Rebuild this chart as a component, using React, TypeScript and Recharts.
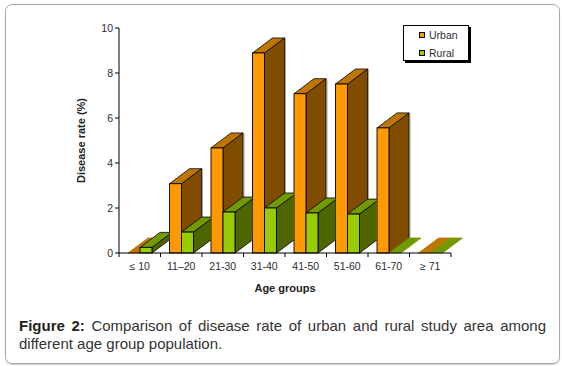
import React from 'react';
import { BarChart, Bar, XAxis, YAxis, Legend } from 'recharts';

const ageGroups = ['≤ 10', '11–20', '21-30', '31-40', '41-50', '51-60', '61-70', '≥ 71'];
const urbanRates = [0, 3.08, 4.67, 8.89, 7.08, 7.51, 5.56, 0];
const ruralRates = [0.25, 0.93, 1.82, 2.0, 1.78, 1.73, 0, 0];
const yTicks = [0, 2, 4, 6, 8, 10];

const chartData = ageGroups.map((group, i) => ({
  group,
  urban: urbanRates[i],
  rural: ruralRates[i],
}));

const FONT = '"Liberation Sans", Arial, sans-serif';
const TEXT = '#2b2b33';
const DEPTH_X = 20;
const DEPTH_Y = 15;
const BAND = 41.5;

const URBAN = { front: '#ff9900', top: '#bf7600', side: '#804d00' };
const RURAL = { front: '#99cc00', top: '#739900', side: '#4d6600' };

const Box3D = ({ x, y, width, height, colors, clipId, clipWidth }: any) => {
  const r = x + width;
  const b = y + height;
  const top = `${x},${y} ${x + DEPTH_X},${y - DEPTH_Y} ${r + DEPTH_X},${y - DEPTH_Y} ${r},${y}`;
  const side = `${r},${y} ${r + DEPTH_X},${y - DEPTH_Y} ${r + DEPTH_X},${b - DEPTH_Y} ${r},${b}`;
  return (
    <g>
      {clipId && (
        <clipPath id={clipId}>
          <rect x={x - 2} y={y - DEPTH_Y - 3} width={clipWidth + 2} height={height + DEPTH_Y + 6} />
        </clipPath>
      )}
      <g clipPath={clipId ? `url(#${clipId})` : undefined}>
        {height > 0 && (
          <line x1={r + DEPTH_X + 1} y1={y - DEPTH_Y} x2={r + DEPTH_X + 1} y2={b - DEPTH_Y} stroke="#aaaaaa" />
        )}
        {height > 0 && <polygon points={side} fill={colors.side} stroke="#000" strokeWidth={0.8} />}
        <polygon points={top} fill={colors.top} stroke={height > 0 ? '#000' : colors.top} strokeWidth={0.8} />
      </g>
      {height > 0 && <rect x={x} y={y} width={width} height={height} fill={colors.front} stroke="#000" strokeWidth={0.9} />}
    </g>
  );
};

const UrbanShape = (props: any) => <Box3D {...props} colors={URBAN} />;

// the next group's urban front sits over this rural box, so cut it off there
const RuralShape = (props: any) => {
  const covered = urbanRates[props.index + 1] > 0;
  return (
    <Box3D
      {...props}
      colors={RURAL}
      clipId={covered ? `rural-clip-${props.index}` : undefined}
      clipWidth={props.width + BAND - 24}
    />
  );
};

const AgeTick = ({ x, y, payload, index }: any) => (
  <g>
    <line x1={x - BAND / 2} y1={y - 8} x2={x - BAND / 2} y2={y - 4} stroke="#000" />
    {index === ageGroups.length - 1 && (
      <line x1={x + BAND / 2} y1={y - 8} x2={x + BAND / 2} y2={y - 4} stroke="#000" />
    )}
    <text x={x} y={y + 9} textAnchor="middle" fontFamily={FONT} fontSize={10.5} fill={TEXT}>
      {payload.value}
    </text>
  </g>
);

const LegendBox = ({ payload }: any) => (
  <div
    style={{
      width: 66,
      height: 36,
      boxSizing: 'border-box',
      background: '#fff',
      border: '1px solid #000',
      boxShadow: '2px 2px 0 #000',
      position: 'relative',
      fontFamily: FONT,
      fontSize: 10.5,
      color: TEXT,
    }}
  >
    {payload.map((entry: any, i: number) => (
      <div key={entry.value} style={{ position: 'absolute', left: 15, top: 3 + i * 17.5, display: 'flex', alignItems: 'center', lineHeight: '12px' }}>
        <span style={{ width: 4, height: 4, border: '1px solid #000', background: entry.color, marginRight: 4 }} />
        {entry.value}
      </div>
    ))}
  </div>
);

export default function App() {
  return (
    <div
      style={{
        position: 'absolute',
        left: 0,
        top: 0,
        width: 562,
        height: 366,
        background: '#fff',
        overflow: 'hidden',
      }}
    >
      <div
        style={{
          position: 'absolute',
          left: 5,
          top: 4,
          width: 553,
          height: 358,
          border: '1px solid #a8a8a8',
          borderRadius: 7,
          boxShadow: '0 1px 1px #ccc',
        }}
      />
      <div style={{ position: 'absolute', left: 0, top: 0 }}>
        <BarChart
          width={562}
          height={366}
          data={chartData}
          margin={{ top: 28, right: 111, bottom: 0, left: 90 }}
          barSize={12}
          barGap={0}
        >
          <XAxis
            dataKey="group"
            height={113}
            interval={0}
            axisLine={{ stroke: '#000', strokeWidth: 1 }}
            tickLine={false}
            tick={<AgeTick />}
            label={{
              value: 'Age groups',
              position: 'insideTop',
              offset: 31,
              style: { fontFamily: FONT, fontSize: 11, fontWeight: 700, fill: '#222' },
            }}
          />
          <YAxis
            width={29}
            domain={[0, 10]}
            ticks={yTicks}
            interval={0}
            axisLine={{ stroke: '#000', strokeWidth: 1 }}
            tickLine={{ stroke: '#000' }}
            tickSize={4}
            tick={{ fontFamily: FONT, fontSize: 10.5, fill: TEXT }}
            label={{
              value: 'Disease rate (%)',
              angle: -90,
              position: 'insideLeft',
              offset: -9,
              style: { fontFamily: FONT, fontSize: 11, fontWeight: 700, fill: '#222', textAnchor: 'middle' },
            }}
          />
          <Legend
            layout="horizontal"
            verticalAlign="middle"
            align="center"
            itemSorter={null}
            content={<LegendBox />}
            wrapperStyle={{ position: 'absolute', left: 403, top: 25, width: 68, bottom: 'auto' }}
          />
          <Bar dataKey="urban" name="Urban" fill={URBAN.front} shape={<UrbanShape />} isAnimationActive={false} />
          <Bar dataKey="rural" name="Rural" fill={RURAL.front} shape={<RuralShape />} isAnimationActive={false} />
        </BarChart>
      </div>
      <div
        style={{
          position: 'absolute',
          left: 19,
          top: 317,
          width: 527,
          fontFamily: FONT,
          fontSize: 15,
          lineHeight: '18px',
          color: '#333',
        }}
      >
        <div style={{ textAlign: 'justify', textAlignLast: 'justify' }}>
          <b style={{ color: '#222' }}>Figure 2:</b> Comparison of disease rate of urban and rural study area among
        </div>
        <div>different age group population.</div>
      </div>
    </div>
  );
}
